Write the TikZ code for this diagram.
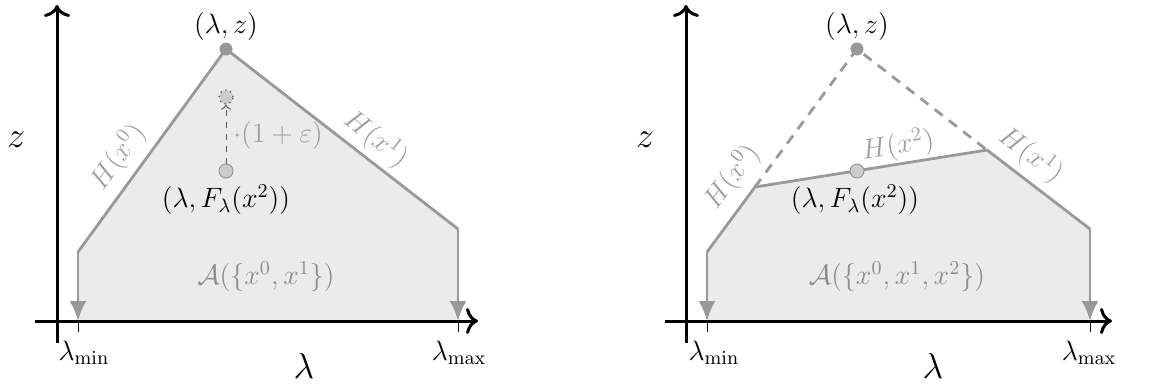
\RequirePackage{fix-cm}
\documentclass[tikz,border=0pt]{standalone}
\usetikzlibrary{arrows.meta}
\definecolor{edgegray}{gray}{0.6}
\definecolor{fillgray}{gray}{0.92}
\definecolor{labgray}{gray}{0.62}
\definecolor{areagray}{gray}{0.55}
\tikzset{
  txt/.style={font=\fontsize{14}{16}\selectfont, inner sep=1pt},
  biglab/.style={font=\fontsize{18}{21}\selectfont, inner sep=1pt},
  axis/.style={line width=1.5pt, black, -{Computer Modern Rightarrow[length=6pt,width=13pt]}},
  edge/.style={line width=1.4pt, edgegray, line join=round},
  downedge/.style={edge, -{Latex[length=10pt,width=8.5pt]}},
  dashededge/.style={line width=1.4pt, edgegray, dash pattern=on 5pt off 4pt},
  tick/.style={line width=0.5pt, black},
  peakdot/.style={circle, fill=edgegray, minimum size=6.5pt, inner sep=0pt},
  fdot/.style={circle, fill=gray!40, draw=gray!80, line width=0.5pt, minimum size=7pt, inner sep=0pt},
  ghostdot/.style={circle, fill=gray!40, draw=black!70, dotted, line width=0.6pt, minimum size=7pt, inner sep=0pt},
  hlab/.style={txt, text=labgray},
  alab/.style={txt, text=areagray},
}
\begin{document}
\begin{tikzpicture}[x=0.5pt,y=-0.5pt]
\useasboundingbox (0,0) rectangle (1158,387);
% ---------------- left panel ----------------
\coordinate (Lmin) at (78,321);
\coordinate (Lmax) at (458,321);
\coordinate (LA) at (78,252);
\coordinate (LP) at (226,49);
\coordinate (LB) at (458,229);
\fill[fillgray] (Lmin) -- (LA) -- (LP) -- (LB) -- (Lmax) -- cycle;
\coordinate (LxS) at (35,321); \coordinate (LxE) at (478,321);
\coordinate (LyS) at (57,343); \coordinate (LyE) at (57,5);
\draw[axis] (LxS) -- (LxE);
\draw[axis] (LyS) -- (LyE);
\coordinate (LminT) at (78,332); \coordinate (LmaxT) at (458,332);
\draw[tick] (Lmin) -- (LminT);
\draw[tick] (Lmax) -- (LmaxT);
\draw[edge] (LA) -- (LP) -- (LB);
\draw[downedge] (LA) -- (Lmin);
\draw[downedge] (LB) -- (Lmax);
\node[peakdot] (LPd) at (LP) {};
\node[txt] (LPl) at (226,26) {$(\lambda,z)$};
\node[ghostdot] (LG) at (226,97) {};
\node[fdot] (LF) at (226,171) {};
\draw[dashed, line width=0.5pt, black!65, -{Computer Modern Rightarrow[length=2.5pt,width=5pt]}] (LF) -- (LG);
\node[hlab, anchor=west] (Leps) at (231,135) {$\cdot(1+\varepsilon)$};
\node[txt] (LFl) at (226,200) {$(\lambda,F_\lambda(x^2))$};
\node[hlab, rotate=54] (LH0) at (118,157) {$H(x^0)$};
\node[hlab, rotate=-38] (LH1) at (376,139) {$H(x^1)$};
\node[alab] (LAr) at (266,277) {$\mathcal{A}(\{x^0,x^1\})$};
\node[biglab] (Lz) at (16,140) {$z$};
\node[biglab] (Llam) at (304,366) {$\lambda$};
\node[txt] (Lminl) at (84,353) {$\lambda_{\min}$};
\node[txt] (Lmaxl) at (459,353) {$\lambda_{\max}$};
% ---------------- right panel ----------------
\coordinate (Rmin) at (707,321);
\coordinate (Rmax) at (1090,321);
\coordinate (RA) at (707,252);
\coordinate (RC) at (755,187);
\coordinate (RD) at (987,150);
\coordinate (RB) at (1090,229);
\coordinate (RP) at (857,49);
\fill[fillgray] (Rmin) -- (RA) -- (RC) -- (RD) -- (RB) -- (Rmax) -- cycle;
\coordinate (RxS) at (665,321); \coordinate (RxE) at (1112,321);
\coordinate (RyS) at (686,343); \coordinate (RyE) at (686,5);
\draw[axis] (RxS) -- (RxE);
\draw[axis] (RyS) -- (RyE);
\coordinate (RminT) at (707,332); \coordinate (RmaxT) at (1090,332);
\draw[tick] (Rmin) -- (RminT);
\draw[tick] (Rmax) -- (RmaxT);
\draw[dashededge] (RC) -- (RP) -- (RD);
\draw[edge] (RA) -- (RC) -- (RD) -- (RB);
\draw[downedge] (RA) -- (Rmin);
\draw[downedge] (RB) -- (Rmax);
\node[peakdot] (RPd) at (RP) {};
\node[txt] (RPl) at (857,26) {$(\lambda,z)$};
\node[fdot] (RF) at (857,171) {};
\node[txt] (RFl) at (855,200) {$(\lambda,F_\lambda(x^2))$};
\node[hlab, rotate=53] (RH0) at (732,177) {$H(x^0)$};
\node[hlab, rotate=9] (RH2) at (898,146) {$H(x^2)$};
\node[hlab, rotate=-37] (RH1) at (1031,155) {$H(x^1)$};
\node[alab] (RAr) at (897,277) {$\mathcal{A}(\{x^0,x^1,x^2\})$};
\node[biglab] (Rz) at (645,140) {$z$};
\node[biglab] (Rlam) at (933,366) {$\lambda$};
\node[txt] (Rminl) at (714,353) {$\lambda_{\min}$};
\node[txt] (Rmaxl) at (1089,353) {$\lambda_{\max}$};
\end{tikzpicture}
\end{document}
